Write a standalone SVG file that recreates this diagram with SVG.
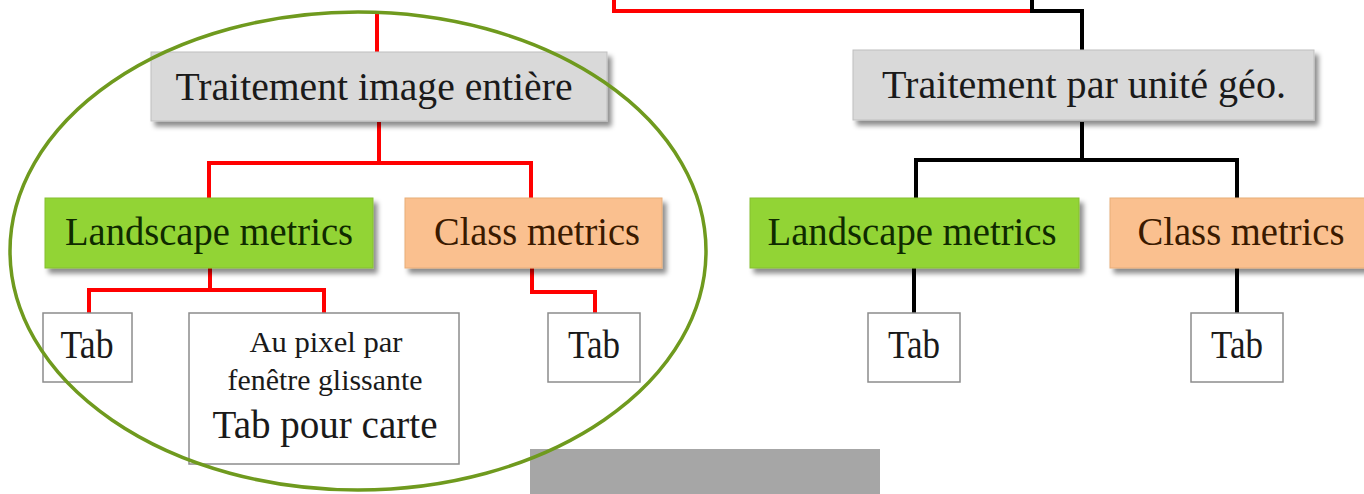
<svg xmlns="http://www.w3.org/2000/svg" width="1364" height="494" viewBox="0 0 1364 494">
<defs>
<filter id="sh" x="-10%" y="-20%" width="120%" height="150%">
<feDropShadow dx="4" dy="5" stdDeviation="2.5" flood-color="#000" flood-opacity="0.45"/>
</filter>
<style>
text{font-family:"Liberation Serif","Times New Roman",serif;text-anchor:middle}
.red{fill:none;stroke:#ff0000;stroke-width:4}
.blk{fill:none;stroke:#000;stroke-width:4}
.gray{fill:#d9d9d9;stroke:#bfbfbf;stroke-width:1}
.green{fill:#92d434;stroke:#86bf30;stroke-width:1}
.orange{fill:#fac08f;stroke:#e8ad78;stroke-width:1}
.tab{fill:#fff;stroke:#8c8c8c;stroke-width:1.5}
.big{font-size:40px}
.sm{font-size:29px}
</style>
</defs>
<rect width="1364" height="494" fill="#fff"/>
<g id="connectors">
<path class="red" d="M614,0 V11 H1032"/>
<path class="blk" d="M1032,0 V11 H1082 V50"/>
<path class="red" d="M377,11 V52"/>
<path class="red" d="M379,122 V163 M209,163 H533 M209,161 V198 M531,161 V198"/>
<path class="blk" d="M1082,122 V160 M914,160 H1239 M916,158 V198 M1237,158 V198"/>
<path class="red" d="M210,268 V290 M87,290 H326 M89,288 V313 M324,288 V313"/>
<path class="red" d="M532,268 V292 H597 M595,290 V313"/>
<path class="blk" d="M914,268 V313"/>
<path class="blk" d="M1237,268 V313"/>
</g>
<g id="n-image-entiere">
<rect class="gray" x="151" y="52" width="456" height="69" filter="url(#sh)"/>
<text class="big" x="374" y="100" fill="#1a1a1a" textLength="397" lengthAdjust="spacingAndGlyphs">Traitement image entière</text>
</g>
<g id="n-unite-geo">
<rect class="gray" x="853" y="50" width="461" height="70" filter="url(#sh)"/>
<text class="big" x="1084" y="98" fill="#1a1a1a" textLength="404" lengthAdjust="spacingAndGlyphs">Traitement par unité géo.</text>
</g>
<g id="n-landscape-1">
<rect class="green" x="45" y="198" width="328" height="70" filter="url(#sh)"/>
<text class="big" x="209" y="245" fill="#0f2a00" textLength="288" lengthAdjust="spacingAndGlyphs">Landscape metrics</text>
</g>
<g id="n-class-1">
<rect class="orange" x="405" y="198" width="257" height="70" filter="url(#sh)"/>
<text class="big" x="537" y="245" fill="#3a1a00" textLength="206" lengthAdjust="spacingAndGlyphs">Class metrics</text>
</g>
<g id="n-landscape-2">
<rect class="green" x="750" y="198" width="329" height="70" filter="url(#sh)"/>
<text class="big" x="912" y="245" fill="#0f2a00" textLength="289" lengthAdjust="spacingAndGlyphs">Landscape metrics</text>
</g>
<g id="n-class-2">
<rect class="orange" x="1110" y="198" width="262" height="70" filter="url(#sh)"/>
<text class="big" x="1241" y="245" fill="#3a1a00" textLength="207" lengthAdjust="spacingAndGlyphs">Class metrics</text>
</g>
<g id="n-tab-1">
<rect class="tab" x="43" y="313" width="89" height="69"/>
<text class="big" x="87" y="358" fill="#1a1a1a" textLength="53" lengthAdjust="spacingAndGlyphs">Tab</text>
</g>
<g id="n-tab-carte">
<rect class="tab" x="189" y="313" width="270" height="151"/>
<text class="sm" x="326" y="352" fill="#1a1a1a" textLength="153" lengthAdjust="spacingAndGlyphs">Au pixel par</text>
<text class="sm" x="325" y="390" fill="#1a1a1a" textLength="195" lengthAdjust="spacingAndGlyphs">fenêtre glissante</text>
<text class="big" x="325" y="438" fill="#1a1a1a" textLength="225" lengthAdjust="spacingAndGlyphs">Tab pour carte</text>
</g>
<g id="n-tab-3">
<rect class="tab" x="548" y="313" width="92" height="69"/>
<text class="big" x="594" y="358" fill="#1a1a1a" textLength="52" lengthAdjust="spacingAndGlyphs">Tab</text>
</g>
<g id="n-tab-4">
<rect class="tab" x="868" y="313" width="92" height="69"/>
<text class="big" x="914" y="358" fill="#1a1a1a" textLength="52" lengthAdjust="spacingAndGlyphs">Tab</text>
</g>
<g id="n-tab-5">
<rect class="tab" x="1191" y="313" width="92" height="69"/>
<text class="big" x="1237" y="358" fill="#1a1a1a" textLength="52" lengthAdjust="spacingAndGlyphs">Tab</text>
</g>
<rect x="530" y="449" width="350" height="45" fill="#a6a6a6"/>
<ellipse cx="358" cy="251" rx="348" ry="239" fill="none" stroke="#6f9a1e" stroke-width="3.5"/>
</svg>
